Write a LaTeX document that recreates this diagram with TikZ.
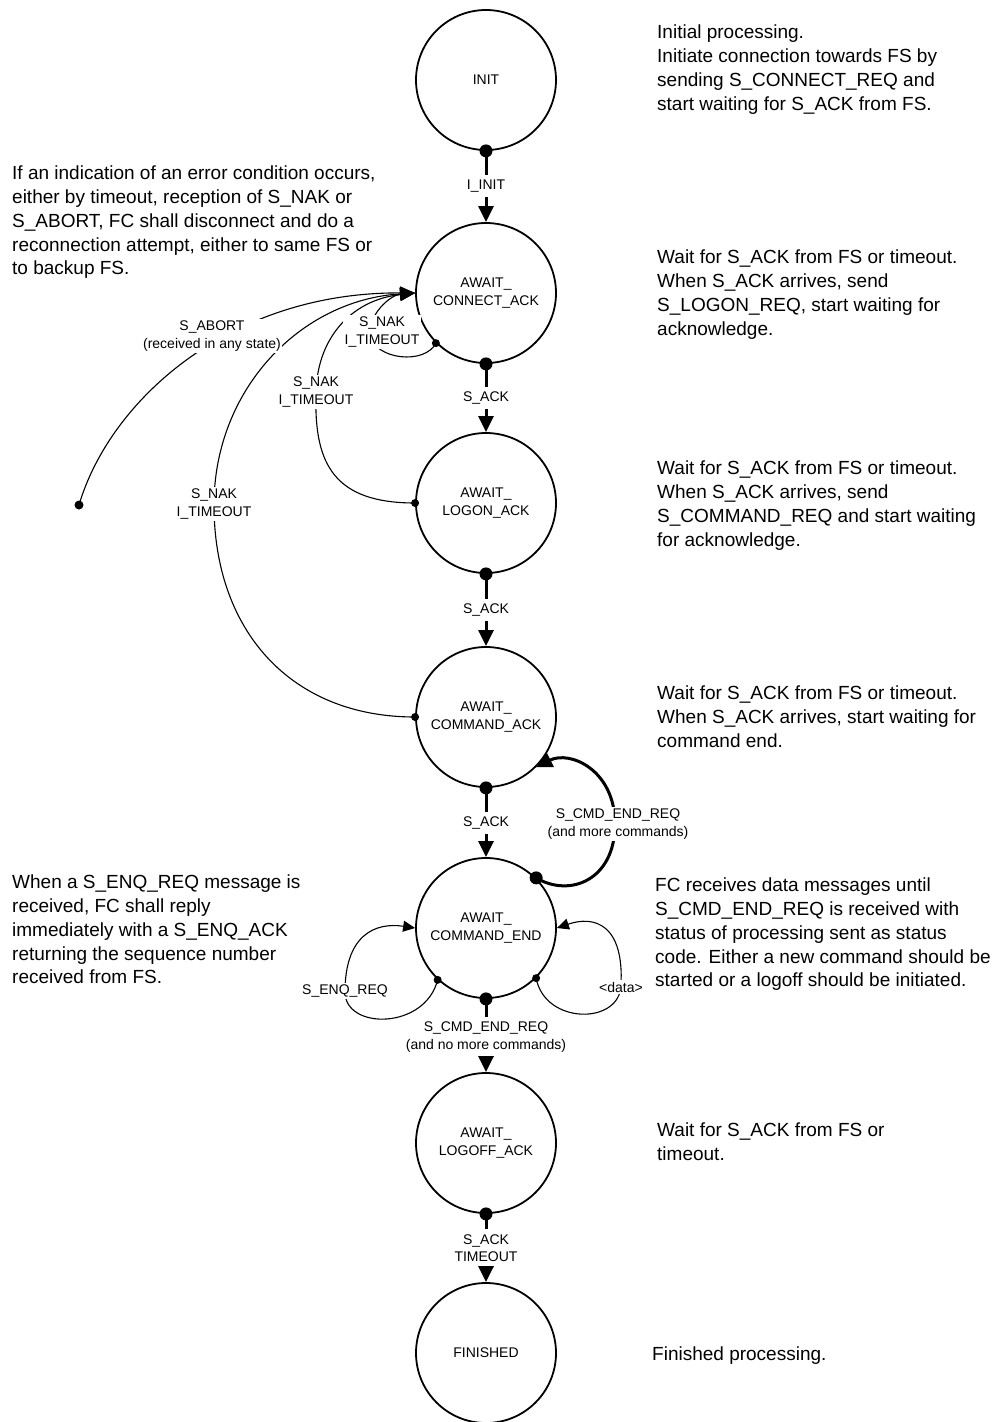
\documentclass[tikz,border=0pt]{standalone}
\usepackage{fontspec}
\setmainfont{Liberation Sans}
\usetikzlibrary{arrows.meta}
\begin{document}
\begin{tikzpicture}[x=1pt,y=-1pt,
  state/.style={circle,draw,line width=1.8pt,minimum size=140pt,inner sep=0pt,align=center,font=\fontsize{14}{17.5}\selectfont},
  elabel/.style={align=center,inner sep=5pt,font=\fontsize{14}{17.5}\selectfont},
  clabel/.style={align=center,inner sep=1.5pt,fill=white,font=\fontsize{14}{17.5}\selectfont},
  desc/.style={align=left,anchor=north west,inner sep=0pt,font=\fontsize{19}{23.7}\selectfont},
  trans/.style={line width=3pt},
  bigarrow/.style={-{Triangle[length=16pt,width=15pt]}},
  curveline/.style={line width=1.1pt},
  midarrow/.style={-{Triangle[length=15pt,width=13pt]}},
  smallarrow/.style={-{Triangle[length=12pt,width=11pt]}},
]
\fill[white] (0,0) rectangle (998,1422);
\useasboundingbox (0,0) rectangle (998,1422);

% states
\node[state] (init) at (486,80) {INIT};
\node[state] (cack) at (486,293) {AWAIT\_\\CONNECT\_ACK};
\node[state] (lack) at (486,503) {AWAIT\_\\LOGON\_ACK};
\node[state] (cmdack) at (486,717) {AWAIT\_\\COMMAND\_ACK};
\node[state] (cmdend) at (486,928) {AWAIT\_\\COMMAND\_END};
\node[state] (lfack) at (486,1143) {AWAIT\_\\LOGOFF\_ACK};
\node[state] (fin) at (486,1353) {FINISHED};

% main transition labels
\node[elabel] (l1) at (486,186) {I\_INIT};
\node[elabel] (l2) at (486,398) {S\_ACK};
\node[elabel] (l3) at (486,610) {S\_ACK};
\node[elabel] (l4) at (486,823) {S\_ACK};
\node[elabel] (l5) at (486,1037) {S\_CMD\_END\_REQ\\(and no more commands)};
\node[elabel] (l6) at (486,1248) {S\_ACK\\TIMEOUT};

% main transitions
\draw[trans] (init.south) -- (l1);
\draw[trans,bigarrow] (l1) -- (cack);
\draw[trans] (cack.south) -- (l2);
\draw[trans,bigarrow] (l2) -- (lack);
\draw[trans] (lack.south) -- (l3);
\draw[trans,bigarrow] (l3) -- (cmdack);
\draw[trans] (cmdack.south) -- (l4);
\draw[trans,bigarrow] (l4) -- (cmdend);
\draw[trans] (cmdend.south) -- (l5);
\draw[trans,bigarrow] (l5) -- (lfack);
\draw[trans] (lfack.south) -- (l6);
\draw[trans,bigarrow] (l6) -- (fin);

% error transitions into AWAIT_CONNECT_ACK
\coordinate (abortsrc) at (79,505);
\draw[curveline,midarrow] (abortsrc) .. controls (110,400) and (230,292) .. (cack.west);
\draw[curveline,midarrow] (cmdack.west) .. controls (290,717) and (214,630) .. (214,505) .. controls (214,390) and (300,300) .. (cack.west);
\draw[curveline,midarrow] (lack.west) .. controls (335,503) and (314,465) .. (316,395) .. controls (316,340) and (350,300) .. (cack.west);
\draw[curveline,midarrow] (cack.225) .. controls (425,365) and (375,360) .. (370,335) .. controls (368,315) and (390,295) .. (cack.west);

\node[clabel] (labort) at (212,336) {S\_ABORT\\(received in any state)};
\node[clabel] (lnak1) at (382,332) {S\_NAK\\I\_TIMEOUT};
\node[clabel] (lnak2) at (316,392) {S\_NAK\\I\_TIMEOUT};
\node[clabel] (lnak3) at (214,504) {S\_NAK\\I\_TIMEOUT};

% more commands loop
\draw[trans,bigarrow] (cmdend.45) .. controls (570,898) and (615,880) .. (615,824) .. controls (615,770) and (570,750) .. (cmdack.315);
\node[clabel] (lmore) at (618,824) {S\_CMD\_END\_REQ\\(and more commands)};

% self loops on AWAIT_COMMAND_END
\draw[curveline,smallarrow] (cmdend.227) .. controls (425,1030) and (345,1030) .. (345,992) .. controls (345,935) and (375,922) .. (cmdend.west);
\node[clabel] (lenq) at (345,991) {S\_ENQ\_REQ};
\draw[curveline,smallarrow] (cmdend.315) .. controls (545,1025) and (620,1025) .. (621,985) .. controls (624,925) and (595,915) .. (cmdend.east);
\node[clabel] (ldata) at (621,987) {<data>};

% dots
\foreach \p in {init.south,cack.south,lack.south,cmdack.south,cmdend.south,lfack.south,cmdend.45}
  \fill (\p) circle (6.5pt);
\fill (abortsrc) circle (4.5pt);
\foreach \p in {cack.225,lack.west,cmdack.west,cmdend.227,cmdend.315}
  \fill (\p) circle (4pt);

% descriptions
\node[desc] (d1) at (657,25) {Initial processing.\\Initiate connection towards FS by\\sending S\_CONNECT\_REQ and\\start waiting for S\_ACK from FS.};
\node[desc] (d2) at (657,250) {Wait for S\_ACK from FS or timeout.\\When S\_ACK arrives, send\\S\_LOGON\_REQ, start waiting for\\acknowledge.};
\node[desc] (d3) at (657,461) {Wait for S\_ACK from FS or timeout.\\When S\_ACK arrives, send\\S\_COMMAND\_REQ and start waiting\\for acknowledge.};
\node[desc] (d4) at (657,686) {Wait for S\_ACK from FS or timeout.\\When S\_ACK arrives, start waiting for\\command end.};
\node[desc] (d5) at (655,878) {FC receives data messages until\\S\_CMD\_END\_REQ is received with\\status of processing sent as status\\code. Either a new command should be\\started or a logoff should be initiated.};
\node[desc] (d6) at (657,1123) {Wait for S\_ACK from FS or\\timeout.};
\node[desc] (d7) at (652,1347) {Finished processing.};
\node[desc] (e1) at (12,166) {If an indication of an error condition occurs,\\either by timeout, reception of S\_NAK or\\S\_ABORT, FC shall disconnect and do a\\reconnection attempt, either to same FS or\\to backup FS.};
\node[desc] (e2) at (12,875) {When a S\_ENQ\_REQ message is\\received, FC shall reply\\immediately with a S\_ENQ\_ACK\\returning the sequence number\\received from FS.};
\end{tikzpicture}
\end{document}
